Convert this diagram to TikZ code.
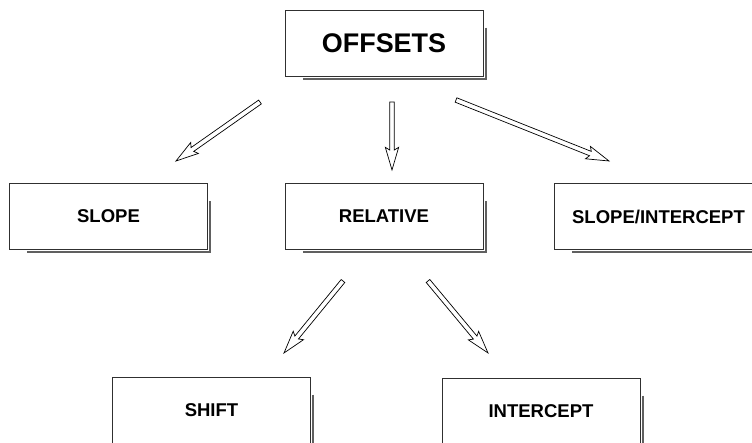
\documentclass[tikz,border=0pt]{standalone}
\usepackage{fontspec}
\setmainfont{Liberation Sans}
\usepackage{xcolor}
\definecolor{edge}{HTML}{303030}
\definecolor{shadowgray}{HTML}{606060}
\usetikzlibrary{calc}

% open block arrow from #1 to #2
\newcommand{\hollowarrow}[2]{%
  \path ($(#2)!0.60cm!(#1)$) coordinate (hj) ($(#2)!0.68cm!(#1)$) coordinate (hb);
  \draw[hollowarr] ($(#1)!0.07cm!90:(#2)$) -- ($(hj)!0.07cm!90:(#2)$) -- ($(hb)!0.2cm!90:(#2)$) -- (#2)
    -- ($(hb)!0.2cm!-90:(#2)$) -- ($(hj)!0.07cm!-90:(#2)$) -- ($(#1)!0.07cm!-90:(#2)$) -- cycle;}

\begin{document}
\begin{tikzpicture}[
  box/.style={draw=edge, fill=white, line width=0.7pt, minimum width=5.94cm, minimum height=1.98cm, inner sep=0pt, font=\fontsize{15.8}{18}\selectfont\bfseries, align=center},
  bigbox/.style={box, font=\fontsize{23}{26}\selectfont\bfseries},
  dropline/.style={draw=shadowgray, line width=2pt},
  hollowarr/.style={draw=black, fill=white, line width=0.6pt, line join=miter}
]
  \useasboundingbox (0,0) rectangle (22.56,13.29);
  \clip (0,0) rectangle (22.56,13.29);

  \node[bigbox] (offsets) at (11.52,12.00) {OFFSETS};
  \node[box] (slope) at (3.255,6.795) {SLOPE};
  \node[box] (relative) at (11.52,6.795) {RELATIVE};
  \node[box] (slopeint) at (19.605,6.795) {\hspace*{0.3cm}SLOPE/INTERCEPT};
  \node[box] (shift) at (6.345,0.99) {SHIFT};
  \node[box] (intercept) at (16.23,0.96) {INTERCEPT};

  \foreach \n in {offsets,slope,relative,slopeint,shift,intercept}
    \draw[dropline] ([shift={(0.07,-0.54)}]\n.north east) |- ([shift={(0.54,-0.07)}]\n.south west);

  % arrow ends
  \coordinate (s1) at (7.80,10.23);  \coordinate (t1) at (5.28,8.46);
  \coordinate (s2) at (11.76,10.23); \coordinate (t2) at (11.76,8.19);
  \coordinate (s3) at (13.68,10.29); \coordinate (t3) at (18.27,8.46);
  \coordinate (s4) at (10.29,4.86);  \coordinate (t4) at (8.52,2.70);
  \coordinate (s5) at (12.84,4.86);  \coordinate (t5) at (14.64,2.70);

  \foreach \i in {1,...,5}
    \hollowarrow{s\i}{t\i};
\end{tikzpicture}
\end{document}
